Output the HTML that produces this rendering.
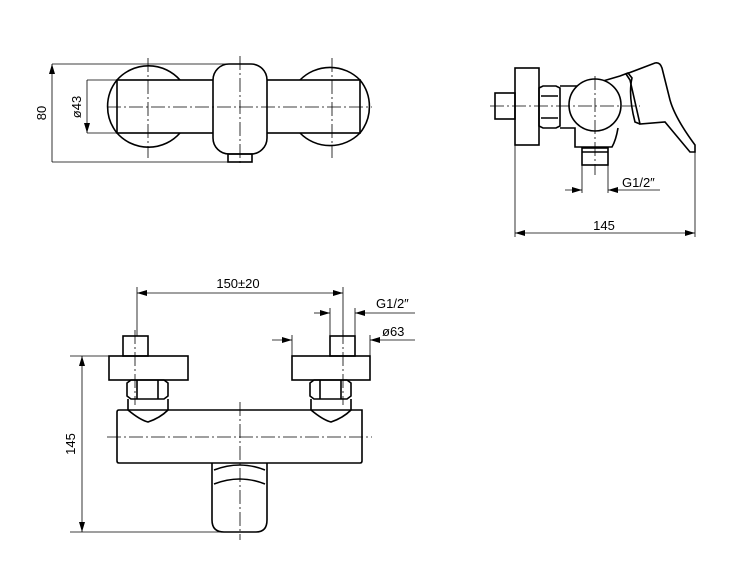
<!DOCTYPE html>
<html><head><meta charset="utf-8"><style>html,body{margin:0;padding:0;background:#fff}svg{display:block}</style></head><body>
<svg width="744" height="563" viewBox="0 0 744 563" xmlns="http://www.w3.org/2000/svg" font-family="Liberation Sans, sans-serif">
<defs>
<marker id="a" viewBox="0 0 10 6" refX="10" refY="3" markerWidth="10" markerHeight="6" orient="auto-start-reverse" markerUnits="userSpaceOnUse"><path d="M0,0L10,3L0,6z" fill="#000"/></marker>
</defs>
<g fill="none" stroke="#000" stroke-width="1.6">
<!-- TOP VIEW -->
<path d="M117,80 A42,42 0 0 1 180,80 M117,133 A42,42 0 0 0 180,133"/>
<path d="M117,80 A42,42 0 0 0 117,133"/>
<path d="M300,80 A42,42 0 0 1 360,80 M300,133 A42,42 0 0 0 360,133"/>
<path d="M360,80 A42,42 0 0 1 360,133"/>
<rect x="117" y="80" width="243" height="53"/>
<rect x="213" y="64" width="54" height="90" rx="16" fill="#fff"/>
<rect x="228" y="154" width="24" height="8"/>
</g>
<g stroke="#000" stroke-width="0.8" fill="none">
<path d="M52,64H233M52,162H230M87,80H117M87,133H117"/>
<path d="M52,64V162M87,80V133" marker-start="url(#a)" marker-end="url(#a)"/>
<g stroke-dasharray="14,3,2,3"><path d="M107,107H372M148,58V158M240,56V166M332,58V158"/></g>
</g>
<text x="46" y="113" font-size="13" transform="rotate(-90 46 113)" text-anchor="middle">80</text>
<text x="81" y="107" font-size="13" transform="rotate(-90 81 107)" text-anchor="middle">ø43</text>

<!-- SIDE VIEW -->
<g fill="none" stroke="#000" stroke-width="1.6">
<rect x="495" y="93" width="20" height="26"/>
<rect x="515" y="68" width="24" height="77"/>
<path d="M539,88 L543,86 H556 L560,88 V126 L556,128 H543 L539,126 Z"/>
<path d="M541,96H558M541,118H558"/>
<path d="M560,86 H590 M560,128 H575 V147 H612 Q616,140 618,128"/>
<path d="M603,81 L620,76 L628,73 L632,78 Q628,95 635,122 L640,124"/>
<circle cx="595" cy="105" r="26" fill="#fff"/>
<path d="M626,74 L655,63 Q660,62 662,68 L670,100 Q675,118 695,145 V152 H690 L665,122 L640,124 L630,80 Z"/>
<rect x="582" y="148" width="26" height="17"/>
<path d="M582,152H608"/>
</g>
<g stroke="#000" stroke-width="0.8" fill="none">
<path d="M515,145V237M695,152V237M582,165V193M608,165V193"/>
<path d="M515,233H695" marker-start="url(#a)" marker-end="url(#a)"/>
<path d="M565,190H582" marker-end="url(#a)"/><path d="M660,190H608" marker-end="url(#a)"/>
<g stroke-dasharray="14,3,2,3"><path d="M490,106H640M595,76V175"/></g>
</g>
<text x="604" y="230" font-size="13" text-anchor="middle">145</text>
<text x="622" y="187" font-size="13">G1/2″</text>

<!-- FRONT VIEW -->
<g fill="none" stroke="#000" stroke-width="1.6">
<rect x="123" y="336" width="25" height="20"/>
<rect x="109" y="356" width="79" height="24"/>
<rect x="330" y="336" width="25" height="20"/>
<rect x="292" y="356" width="78" height="24"/>
<path d="M127,383 L131,380 H164 L168,383 V396 L164,399 H131 L127,396 Z M137,380V399M158,380V399"/>
<path d="M310,383 L314,380 H347 L351,383 V396 L347,399 H314 L310,396 Z M320,380V399M341,380V399"/>
<path d="M128,399 V410 M168,399 V410 M128,410 Q140,420 148,422 Q160,418 168,410"/>
<path d="M311,399 V410 M351,399 V410 M311,410 Q323,420 331,422 Q343,418 351,410"/>
<path d="M119,410 H362 V461 Q362,463 360,463 H119 Q117,463 117,461 V412 Q117,410 119,410 Z"/>
<path d="M212,463 V520 Q212,532 224,532 H256 Q267,532 267,520 V463"/>
<path d="M214,470 Q240,460 265,470 M214,484 Q240,474 265,484"/>
</g>
<g stroke="#000" stroke-width="0.8" fill="none">
<path d="M137,287V336M343,287V336M330,308V336M355,308V336M292,335V356M370,335V356M70,356H109M70,532H240"/>
<path d="M137,293H343" marker-start="url(#a)" marker-end="url(#a)"/>
<path d="M82,356V532" marker-start="url(#a)" marker-end="url(#a)"/>
<path d="M314,313H330" marker-end="url(#a)"/><path d="M415,313H355" marker-end="url(#a)"/>
<path d="M272,340H292" marker-end="url(#a)"/><path d="M415,340H370" marker-end="url(#a)"/>
<g stroke-dasharray="14,3,2,3"><path d="M107,437H372M135,330V405M343,330V405M240,402V540"/></g>
</g>
<text x="238" y="288" font-size="13" text-anchor="middle">150±20</text>
<text x="376" y="308" font-size="13">G1/2″</text>
<text x="382" y="336" font-size="13">ø63</text>
<text x="75" y="444" font-size="13" transform="rotate(-90 75 444)" text-anchor="middle">145</text>
</svg>
</body></html>
